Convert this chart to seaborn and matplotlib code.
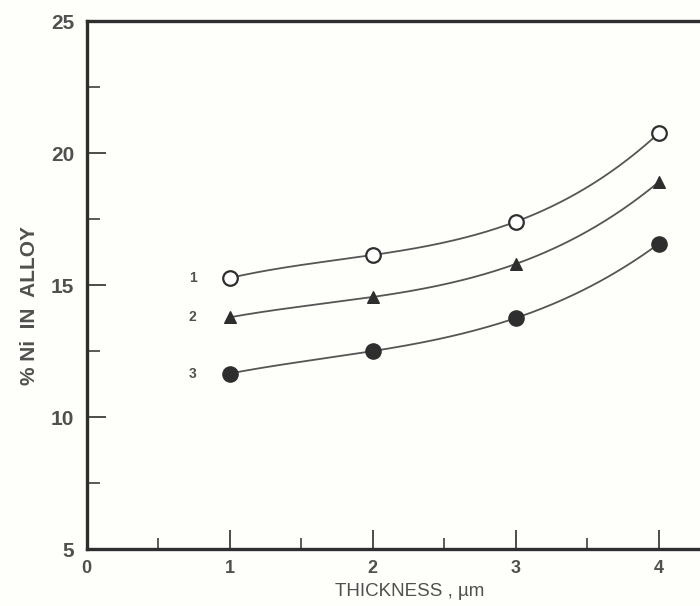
import numpy as np
import pandas as pd
import matplotlib
matplotlib.use("Agg")
import matplotlib.pyplot as plt
from matplotlib.ticker import MultipleLocator
import seaborn as sns

# Ni content of the deposited alloy vs. deposit thickness, three baths
thickness = [1, 2, 3, 4]
curve_1 = [15.27, 16.14, 17.40, 20.75]
curve_2 = [13.78, 14.55, 15.80, 18.90]
curve_3 = [11.65, 12.50, 13.75, 16.56]
curve_labels = ["1", "2", "3"]
x_ticks = [0, 1, 2, 3, 4]
y_ticks = [5, 10, 15, 20, 25]

sns.set_style("white")
plt.rcParams["font.family"] = ["Liberation Sans", "DejaVu Sans"]

ink = "#2e2e2e"
text_c = "#505050"
bg = "#fefefb"

fig = plt.figure(figsize=(7.0, 6.06), dpi=100, facecolor=bg)
ax = fig.add_axes([0.124, 0.094, 0.876, 0.871])
ax.set_facecolor(bg)

series = [curve_1, curve_2, curve_3]
markers = [
    dict(marker="o", facecolor="white", edgecolor=ink, s=110, linewidth=1.6),
    dict(marker="^", facecolor=ink, edgecolor=ink, s=70, linewidth=1.0),
    dict(marker="o", facecolor=ink, edgecolor=ink, s=120, linewidth=1.0),
]

for vals, mk, lab in zip(series, markers, curve_labels):
    # smooth cubic drawn exactly through the measured points
    coef = np.polyfit(thickness, vals, 3)
    xs = np.linspace(thickness[0], thickness[-1], 200)
    smooth = pd.DataFrame({"x": xs, "y": np.polyval(coef, xs)})
    sns.lineplot(data=smooth, x="x", y="y", ax=ax, color="#555555",
                 linewidth=1.3, zorder=2)
    pts = pd.DataFrame({"x": thickness, "y": vals})
    sns.scatterplot(data=pts, x="x", y="y", ax=ax, zorder=3, **mk)
    ax.text(0.74, vals[0], lab, ha="center", va="center", fontsize=10,
            fontweight="bold", color=text_c)

ax.set_xlim(0, 4.29)
ax.set_ylim(5, 25)
ax.set_xticks(x_ticks)
ax.set_yticks(y_ticks)
ax.xaxis.set_minor_locator(MultipleLocator(0.5))
ax.yaxis.set_minor_locator(MultipleLocator(2.5))
ax.tick_params(axis="both", which="both", bottom=True, left=True,
               top=False, right=False)
ax.tick_params(axis="both", which="major", direction="in", width=1.2,
               color=ink)
ax.tick_params(axis="x", which="major", length=14, labelsize=13,
               pad=8, labelcolor=text_c)
ax.tick_params(axis="y", which="major", length=14, labelsize=15,
               pad=9, labelcolor=text_c)
ax.tick_params(axis="x", which="minor", direction="in", length=8,
               width=1.1, color=ink)
ax.tick_params(axis="y", which="minor", direction="in", length=9,
               width=1.1, color=ink)
for lbl in ax.get_xticklabels() + ax.get_yticklabels():
    lbl.set_fontweight("bold")

for side in ["left", "bottom", "top"]:
    ax.spines[side].set_color(ink)
    ax.spines[side].set_linewidth(2.4)
ax.spines["right"].set_visible(False)

ax.set_xlabel("THICKNESS , µm", fontsize=13.5, color=text_c)
ax.set_ylabel("% Ni  IN  ALLOY", fontsize=15, fontweight="bold",
              color=text_c)
ax.xaxis.set_label_coords(0.526, -0.065)
ax.yaxis.set_label_coords(-0.078, 0.462)

fig.savefig("out.png", dpi=100, facecolor=bg)
